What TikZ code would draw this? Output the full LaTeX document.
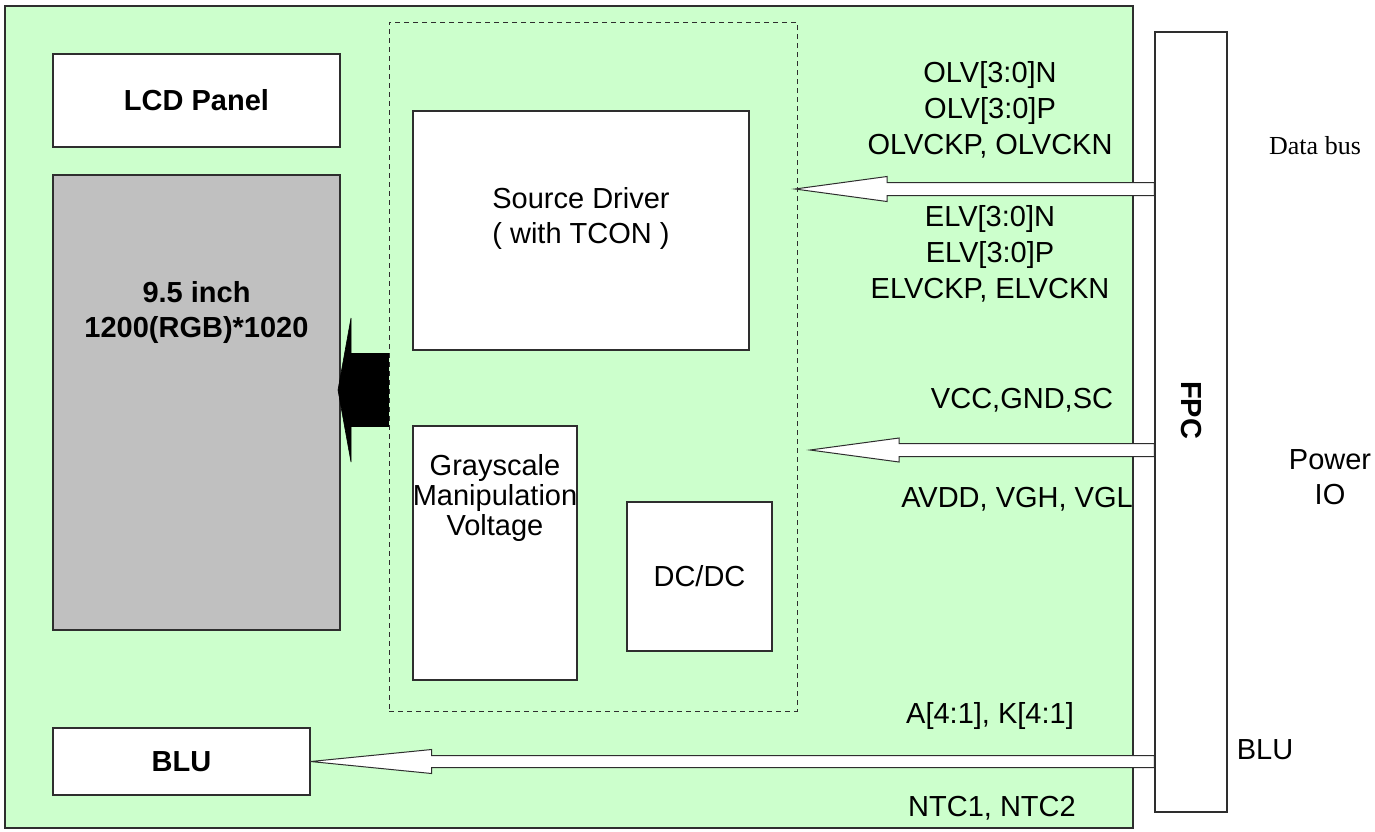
\documentclass[tikz,border=0pt]{standalone}
\usepackage{fontspec}
\setmainfont{Liberation Sans}
\newfontfamily\busfont{Liberation Serif}
\usetikzlibrary{calc}
\definecolor{platine}{HTML}{CCFFCC}
\definecolor{panelg}{HTML}{C0C0C0}
\definecolor{rand}{HTML}{2E2E2E}
\tikzset{
  board/.style={draw=rand,fill=platine,line width=0.7pt,inner sep=0pt},
  blk/.style={draw=rand,fill=white,line width=0.6pt,inner sep=0pt},
  grp/.style={draw=rand,line width=0.5pt,dash pattern=on 2.5pt off 2pt,inner sep=0pt},
  txt/.style={font=\fontsize{14.5}{17.5}\selectfont,align=center,inner sep=0pt},
  btxt/.style={font=\fontsize{14.5}{17.5}\selectfont\bfseries,align=center,inner sep=0pt},
  sig/.style={font=\fontsize{14.5}{18}\selectfont,align=center,inner sep=0pt},
  hohl/.style={draw=rand,fill=white,line width=0.5pt},
  voll/.style={draw=black,fill=black,line width=0.3pt},
}
% [style] source, tip, half shaft, half head, head length
\newcommand{\fatarrow}[6][hohl]{%
  \draw[#1] (#3) -- ++(#6,-#5) -- ++(0,#5-#4) -- ($(#2)+(0,-#4)$)
    -- ($(#2)+(0,#4)$) -- ($(#3)+(#6,#4)$) -- ++(0,#5-#4) -- cycle;}
\begin{document}
\begin{tikzpicture}[x=0.5pt,y=-0.5pt]
  \useasboundingbox (0,0) rectangle (1375,831);
  % board and blocks
  \node[board,minimum width=564pt,minimum height=411pt] (brd) at (569,417) {};
  \node[blk,minimum width=143.5pt,minimum height=46.5pt,btxt] (lcd) at (196.5,100.5) {LCD Panel};
  \node[blk,fill=panelg,minimum width=143.5pt,minimum height=227.5pt] (panel) at (196.5,402.5) {};
  \node[btxt] (paneltxt) at (196.5,312) {9.5 inch\\1200(RGB)*1020};
  \node[grp,minimum width=204pt,minimum height=344.5pt] (grp) at (593,366.5) {};
  \node[blk,minimum width=168pt,minimum height=119.5pt] (sd) at (581,230.5) {};
  \node[txt] (sdtxt) at (581,218) {Source Driver\\( with TCON )};
  \node[blk,minimum width=82pt,minimum height=127pt] (gsv) at (495,553) {};
  \node[txt,font=\fontsize{14.5}{15}\selectfont] (gsvtxt) at (495,498) {Grayscale\\Manipulation\\Voltage};
  \node[blk,minimum width=72.5pt,minimum height=74.5pt] (dcdc) at (699.5,576.5) {};
  \node[txt] (dcdctxt) at (dcdc) {DC/DC};
  \node[blk,minimum width=128.5pt,minimum height=33.5pt,btxt] (blu) at (181.5,761.5) {BLU};
  \node[blk,minimum width=36pt,minimum height=390pt] (fpc) at (1191,422) {};
  \node[btxt,rotate=-90] (fpctxt) at (1191,410) {FPC};

  % connectors
  \coordinate (dTip) at (795,189);
  \coordinate (dSrc) at (fpc.west |- dTip);
  \fatarrow{dSrc}{dTip}{6.5}{12.5}{92}
  \coordinate (pTip) at (810,450);
  \coordinate (pSrc) at (fpc.west |- pTip);
  \fatarrow{pSrc}{pTip}{6.5}{12}{89}
  \coordinate (bTip) at (blu.east);
  \coordinate (bSrc) at (fpc.west |- bTip);
  \fatarrow{bSrc}{bTip}{6}{12}{121}
  \coordinate (gTip) at (338,390);
  \coordinate (gSrc) at (grp.west |- gTip);
  \fatarrow[voll]{gSrc}{gTip}{36.5}{72}{13}

  % signal names
  \node[sig] (olv) at (990,110) {OLV[3:0]N\\OLV[3:0]P\\OLVCKP, OLVCKN};
  \node[sig] (elv) at (990,254) {ELV[3:0]N\\ELV[3:0]P\\ELVCKP, ELVCKN};
  \node[sig] (vcc) at (1022,400) {VCC,GND,SC};
  \node[sig] (avdd) at (1017,499) {AVDD, VGH, VGL};
  \node[sig] (ak) at (990,716) {A[4:1], K[4:1]};
  \node[sig] (ntc) at (992,808) {NTC1, NTC2};
  \node[sig,font=\busfont\fontsize{13}{16}\selectfont] (bus) at (1315,146) {Data bus};
  \node[txt] (pwr) at (1330,477) {Power\\IO};
  \node[txt] (blur) at (1265,750) {BLU};
\end{tikzpicture}
\end{document}
